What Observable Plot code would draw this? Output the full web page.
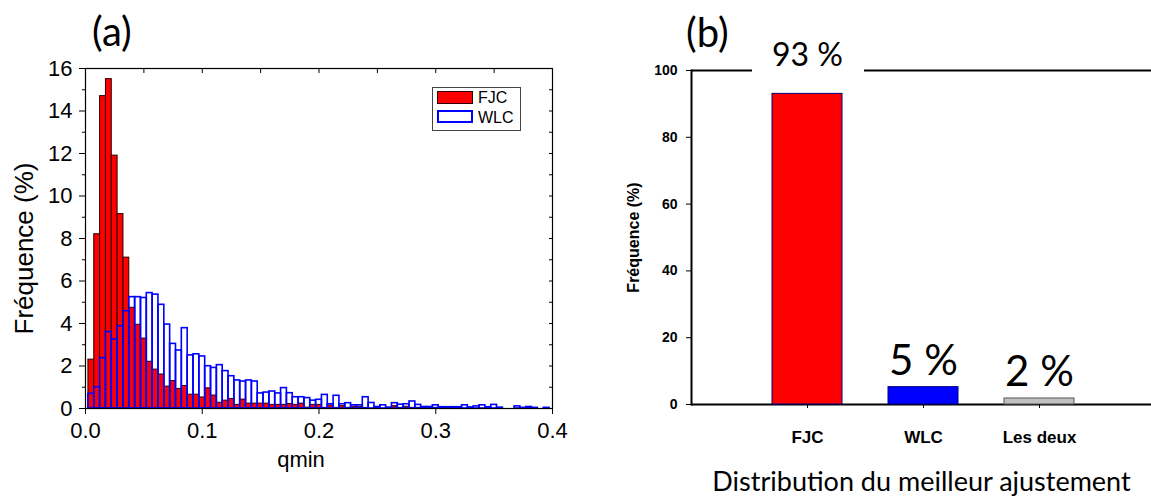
<!DOCTYPE html>
<html><head><meta charset="utf-8">
<script src="https://cdn.jsdelivr.net/npm/d3@7"></script>
<script src="https://cdn.jsdelivr.net/npm/@observablehq/plot@0.6"></script>
<style>
body{margin:0;background:#fff;}
#wrap{position:relative;width:1151px;height:496px;overflow:hidden;background:#fff}
.panel{position:absolute;top:0}
.lbl{position:absolute;font-family:Lato,sans-serif;color:#000;white-space:nowrap;line-height:1}
.legend{position:absolute;left:432px;top:87px;width:87px;height:42px;border:1px solid #444;background:#fff;font-family:"Liberation Sans",Arial,sans-serif;font-size:16px}
.sw{position:absolute;left:4px;width:34px;height:11px;box-sizing:content-box}
.lt{position:absolute;left:45px;line-height:1}
</style></head><body>
<div id="wrap">
  <div id="pa" class="panel" style="left:0"></div>
  <div id="pb" class="panel" style="left:600px"></div>
  <div class="lbl" style="left:92px;top:11px;font-size:40px">(a)</div>
  <div class="lbl" style="left:686px;top:12px;font-size:40px">(b)</div>
  <div class="legend">
    <span class="sw" style="top:3px;background:#ff0000;border:1px solid #300"></span><span class="lt" style="top:2px">FJC</span>
    <span class="sw" style="top:22px;background:#fff;border:2px solid #0000ff;width:32px;height:9px"></span><span class="lt" style="top:22px">WLC</span>
  </div>
</div>
<script>
// ---------- Panel (a): histogram of qmin ----------
const qCenters = [0.005,0.010,0.015,0.020,0.025,0.030,0.035,0.040,0.045,0.050,
  0.055,0.060,0.065,0.070,0.075,0.080,0.085,0.090,0.095,0.100,
  0.105,0.110,0.115,0.120,0.125,0.130,0.135,0.140,0.145,0.150,
  0.155,0.160,0.165,0.170,0.175,0.180,0.185,0.190,0.195,0.200,
  0.205,0.210,0.215,0.220,0.225,0.230,0.235,0.240,0.245,0.250,
  0.255,0.260,0.265,0.270,0.275,0.280,0.285,0.290,0.295,0.300,
  0.305,0.310,0.315,0.320,0.325,0.330,0.335,0.340,0.345,0.350,
  0.355,0.360,0.365,0.370,0.375,0.380,0.385,0.390,0.395,0.400];
const fjcFreq = [2.3,8.2,14.7,15.5,11.9,9.15,7.1,4.74,3.94,3.29,
  2.2,1.83,1.6,1.03,1.29,0.92,1.06,0.65,0.65,0.52,
  0.95,0.61,0.27,0.37,0.45,0.17,0.42,0.23,0.23,0.23,
  0.23,0.17,0.17,0.17,0.21,0.17,0.23,0.04,0.17,0.17,
  0.03,0.14,0.03,0.11,0.03,0.09,0.08,0.03,0,0.03,
  0,0.03,0.11,0.03,0.08,0.03,0.03,0,0.03,0.03,
  0,0,0,0,0,0,0,0,0,0,
  0,0,0,0,0,0,0,0,0,0];
const wlcFreq = [0.69,1.0,2.37,3.6,3.25,3.87,4.58,5.24,5.24,5.2,
  5.43,5.36,4.88,3.95,3.04,2.73,3.78,2.5,2.55,2.45,
  1.99,1.91,2.04,1.76,1.52,1.32,1.27,1.32,1.27,0.71,
  0.75,0.8,0.71,0.96,0.72,0.53,0.53,0.49,0.37,0.41,
  0.64,0.2,0.6,0.2,0.25,0.15,0.15,0.53,0.26,0.07,
  0.15,0.04,0.25,0.18,0.2,0.33,0.17,0.07,0.07,0.15,
  0.06,0.06,0.06,0.06,0.15,0.05,0.1,0.15,0.06,0.17,
  0.04,0,0,0.1,0.03,0.07,0.03,0,0.03,0];
const binWidth = 0.005;
const xTicksA = [0.0, 0.1, 0.2, 0.3, 0.4];
const xTopTicksA = [0.05,0.1,0.15,0.2,0.25,0.3,0.35];
const yTicksA = [0, 2, 4, 6, 8, 10, 12, 14, 16];
const yMinorA = [1, 3, 5, 7, 9, 11, 13, 15];
const yRightA = [1,2,3,4,5,6,7,8,9,10,11,12,13,14,15];

const bins = qCenters.map((q, i) => ({q, fjc: fjcFreq[i], wlc: wlcFreq[i]}));
const fontA = "'Liberation Sans', Arial, sans-serif";

const A = Plot.plot({
  width: 575, height: 496,
  marginLeft: 85, marginRight: 23, marginTop: 68, marginBottom: 88,
  style: {fontFamily: fontA, background: "transparent", color: "#000"},
  x: {domain: [0, 0.4]},
  y: {domain: [0, 16]},
  marks: [
    Plot.rectY(bins, {x1: d => d.q - binWidth / 2, x2: d => d.q + binWidth / 2, y: "fjc",
      fill: "#ff0000", stroke: "#2a0000", strokeWidth: 1}),
    Plot.rectY(bins, {x1: d => d.q - binWidth / 2, x2: d => d.q + binWidth / 2, y: "wlc",
      fill: "none", stroke: "#0000ff", strokeWidth: 1.6}),
    Plot.frame({stroke: "#000", strokeWidth: 1.2}),
    Plot.axisX({ticks: xTicksA, tickFormat: d3.format(".1f"), tickSize: 6, tickPadding: 8, fontSize: 22, label: null}),
    Plot.axisX({anchor: "top", ticks: xTopTicksA, tickSize: 4, dy: 4, tickFormat: () => "", label: null}),
    Plot.axisY({ticks: yTicksA, tickSize: 6, tickPadding: 7, fontSize: 22, label: null}),
    Plot.axisY({ticks: yMinorA, tickSize: 3, tickFormat: () => "", label: null}),
    Plot.axisY({anchor: "right", ticks: yRightA, tickSize: 4, dx: -4, tickFormat: () => "", label: null}),
    Plot.text(["Fréquence (%)"], {frameAnchor: "left", textAnchor: "middle", rotate: -90, dx: -61, dy: 10, fontSize: 26}),
    Plot.text(["qmin"], {frameAnchor: "bottom", textAnchor: "middle", dy: 58, dx: -18, fontSize: 22})
  ]
});
document.getElementById("pa").appendChild(A);

// ---------- Panel (b): best fit distribution ----------
const fitCats = ["FJC", "WLC", "Les deux"];
const fitFreq = [93, 5.2, 1.8];
const fitLabels = ["93 %", "5 %", "2 %"];
const yTicksB = [0, 20, 40, 60, 80, 100];
const fit = fitCats.map((c, i) => ({cat: c, v: fitFreq[i], label: fitLabels[i]}));

const B = Plot.plot({
  width: 551, height: 496,
  marginLeft: 91, marginRight: 0, marginTop: 70, marginBottom: 92,
  style: {fontFamily: fontA, background: "transparent", color: "#000"},
  x: {type: "band", domain: fitCats, range: [148.6, 496.6], paddingInner: 0.4, paddingOuter: 0.2},
  y: {domain: [0, 100]},
  color: {domain: fitCats, range: ["#ff0000", "#0000ff", "#c0c0c0"]},
  marks: [
    Plot.ruleY([0, 100], {stroke: "#000", strokeWidth: 2}),
    Plot.barY(fit.slice(0, 1), {x: "cat", y1: 96, y2: 104, fill: "white", insetLeft: -20, insetRight: -22}),
    Plot.frame({anchor: "left", stroke: "#000", strokeWidth: 2}),
    Plot.barY(fit, {x: "cat", y: "v", fill: "cat", stroke: d => d.cat === "Les deux" ? "#555" : "#000080", strokeWidth: 1}),
    Plot.text(fit.slice(0, 1), {x: "cat", y: "v", text: "label", dy: -38, fontSize: 32, fontFamily: "Lato"}),
    Plot.text(fit.slice(1), {x: "cat", y: "v", text: "label", dy: -26, fontSize: 42, fontFamily: "Lato"}),
    Plot.axisY({ticks: yTicksB, tickSize: 5, tickPadding: 9, fontSize: 14, fontWeight: "bold", label: null}),
    Plot.axisX({tickSize: 4, tickPadding: 22, fontSize: 17, fontWeight: "bold", label: null}),
    Plot.text(["Fréquence (%)"], {frameAnchor: "left", textAnchor: "middle", rotate: -90, dx: -58, fontSize: 16, fontWeight: "bold"}),
    Plot.text(["Distribution du meilleur ajustement"], {frameAnchor: "bottom", textAnchor: "middle", dy: 86, fontSize: 27, fontFamily: "Lato"})
  ]
});
document.getElementById("pb").appendChild(B);
</script>
</body></html>
